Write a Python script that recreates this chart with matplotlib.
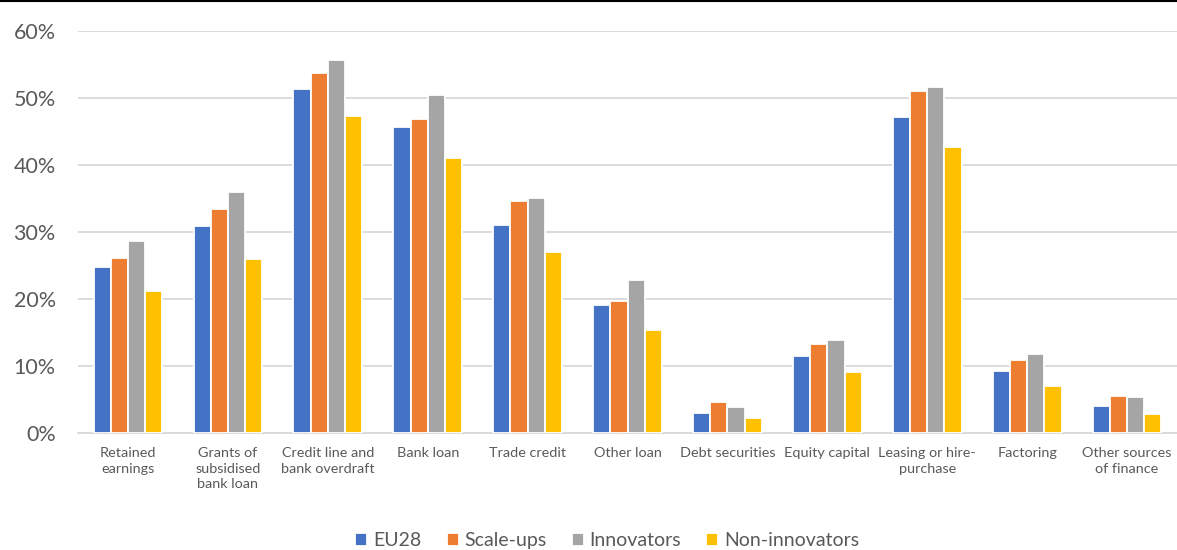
import numpy as np
import matplotlib.pyplot as plt
from matplotlib.lines import Line2D

plt.rcParams['font.family'] = ['Lato', 'DejaVu Sans']

categories = ['Retained\nearnings', 'Grants of\nsubsidised\nbank loan', 'Credit line and\nbank overdraft',
              'Bank loan', 'Trade credit', 'Other loan', 'Debt securities', 'Equity capital',
              'Leasing or hire-\npurchase', 'Factoring', 'Other sources\nof finance']
eu28 = [24.8, 30.9, 51.4, 45.7, 31.0, 19.1, 3.0, 11.5, 47.1, 9.3, 4.1]
scaleups = [26.1, 33.4, 53.8, 46.9, 34.7, 19.7, 4.6, 13.3, 51.1, 10.9, 5.5]
innovators = [28.6, 35.9, 55.6, 50.4, 35.1, 22.8, 3.9, 13.9, 51.6, 11.8, 5.4]
non_innovators = [21.2, 26.0, 47.3, 41.1, 27.0, 15.4, 2.2, 9.1, 42.7, 7.0, 2.8]

series = [('EU28', eu28, '#4472c4'), ('Scale-ups', scaleups, '#ed7d31'),
          ('Innovators', innovators, '#a5a5a5'), ('Non-innovators', non_innovators, '#ffc000')]

fig = plt.figure(figsize=(11.77, 5.5), dpi=100)
ax = fig.add_axes([0.0663, 0.2127, 0.9337, 0.7309])

x = np.arange(len(categories))
w = 0.172
for i, (name, vals, col) in enumerate(series):
    ax.bar(x + (i - 1.5) * w, np.array(vals) / 100, width=w, color=col, label=name,
           edgecolor='white', linewidth=1.3, zorder=3)

ax.set_xlim(-0.5, len(categories) - 0.5)
ax.set_ylim(0, 0.6)
ax.set_yticks(np.arange(0, 0.61, 0.1))
ax.set_yticklabels(['%d%%' % v for v in range(0, 61, 10)])
ax.yaxis.grid(True, color='#d9d9d9', linewidth=1.3, zorder=0)
ax.set_xticks(x)
ax.set_xticklabels(categories, fontsize=10.4, color='#595959', linespacing=1.36, va='top')
ax.tick_params(axis='y', labelsize=15.5, labelcolor='#595959', length=0, pad=16)
ax.tick_params(axis='x', length=0, pad=10)
for s in ['top', 'right', 'left']:
    ax.spines[s].set_visible(False)
ax.spines['bottom'].set_color('#d9d9d9')
ax.spines['bottom'].set_linewidth(1.3)

fig.legend(loc='center', bbox_to_anchor=(0.516, 0.0164), ncol=4, frameon=False,
           fontsize=14, handlelength=0.62, handleheight=0.62, handletextpad=0.3,
           columnspacing=1.29, labelcolor='#595959')

fig.add_artist(Line2D([0, 1], [0.999, 0.999], color='black', linewidth=1.5, transform=fig.transFigure))

plt.savefig('out.png', dpi=100)
